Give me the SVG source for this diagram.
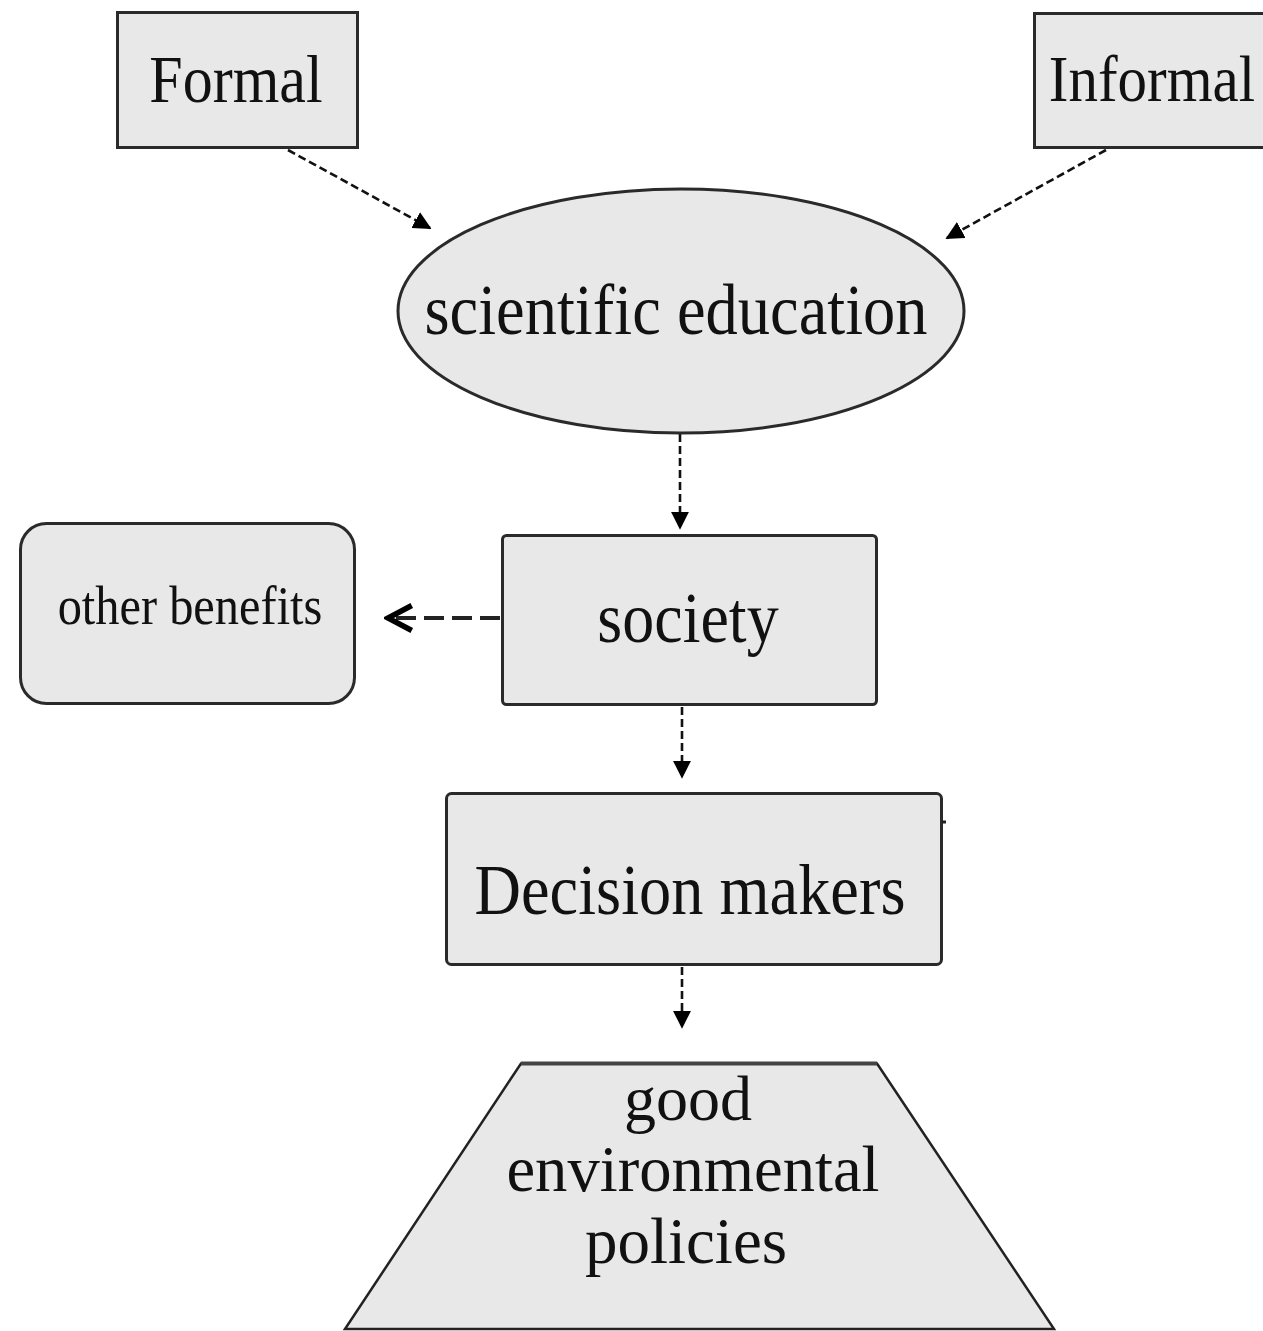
<svg xmlns="http://www.w3.org/2000/svg" width="1263" height="1331" viewBox="0 0 1263 1331">
<defs>
<style>
.box{fill:#e8e8e8;stroke:#2a2a2a;stroke-width:3}
.t{font-family:"Liberation Serif","Times New Roman",serif;fill:#111;text-anchor:middle}
.c{fill:none;stroke:#111;stroke-width:2.6;stroke-dasharray:8 4}
.c2{fill:none;stroke:#222;stroke-width:4;stroke-dasharray:20 8}
</style>
<marker id="ah" viewBox="0 0 10 10" refX="9" refY="5" markerWidth="7" markerHeight="7" markerUnits="strokeWidth" orient="auto">
<path d="M0,0 L10,5 L0,10 Z" fill="#000"/>
</marker>
<marker id="chev" viewBox="0 0 12 12" refX="10.5" refY="6" markerWidth="7.5" markerHeight="7.5" markerUnits="strokeWidth" orient="auto">
<path d="M1,1 L10.5,6 L1,11" fill="none" stroke="#000" stroke-width="2.2"/>
</marker>
</defs>
<rect width="1263" height="1331" fill="#fff"/>
<g id="connectors">
<line class="c" x1="288" y1="150" x2="430" y2="228" marker-end="url(#ah)"/>
<line class="c" x1="1106" y1="150" x2="947" y2="238" marker-end="url(#ah)"/>
<line class="c" x1="680" y1="434" x2="680" y2="528" marker-end="url(#ah)"/>
<line class="c2" x1="500" y1="618" x2="388" y2="618" marker-end="url(#chev)"/>
<line class="c" x1="682" y1="707" x2="682" y2="777" marker-end="url(#ah)"/>
<line class="c" x1="682" y1="967" x2="682" y2="1027" marker-end="url(#ah)"/>
</g>
<g id="formal">
<rect class="box" x="117.5" y="12.5" width="240" height="135"/>
<text class="t" transform="translate(236,102) scale(1,1.12)" font-size="60">Formal</text>
</g>
<g id="informal">
<rect class="box" x="1034.5" y="13.5" width="240" height="134"/>
<text class="t" transform="translate(1152,101) scale(1,1.12)" font-size="59">Informal</text>
</g>
<g id="scientific-education">
<ellipse class="box" cx="681" cy="311" rx="283" ry="122" stroke-width="2.5"/>
<text class="t" transform="translate(676,334) scale(1,1.12)" font-size="64.5">scientific education</text>
</g>
<g id="society">
<rect class="box" x="502.5" y="535.5" width="374" height="169" rx="4"/>
<text class="t" transform="translate(688,642) scale(1,1.12)" font-size="64">society</text>
</g>
<g id="other-benefits">
<rect class="box" x="20.5" y="523.5" width="334" height="180" rx="26" stroke="#111" stroke-width="3.5"/>
<text class="t" transform="translate(190,624) scale(1,1.12)" font-size="48.4">other benefits</text>
</g>
<g id="decision-makers">
<rect class="box" x="446.5" y="793.5" width="495" height="171" rx="5"/>
<line x1="942" y1="822" x2="946" y2="822" stroke="#222" stroke-width="3"/>
<text class="t" transform="translate(690,914) scale(1,1.12)" font-size="64.4">Decision makers</text>
</g>
<g id="good-environmental-policies">
<polygon points="521,1063.5 877,1063.5 1054,1329 345,1329" fill="#e8e8e8" stroke="#222" stroke-width="2.5"/>
<line x1="521" y1="1063.5" x2="877" y2="1063.5" stroke="#444" stroke-width="4"/>
<text class="t" x="688" y="1120" font-size="64">good</text>
<text class="t" x="693" y="1191" font-size="64.6">environmental</text>
<text class="t" x="686" y="1263" font-size="65">policies</text>
</g>
</svg>
